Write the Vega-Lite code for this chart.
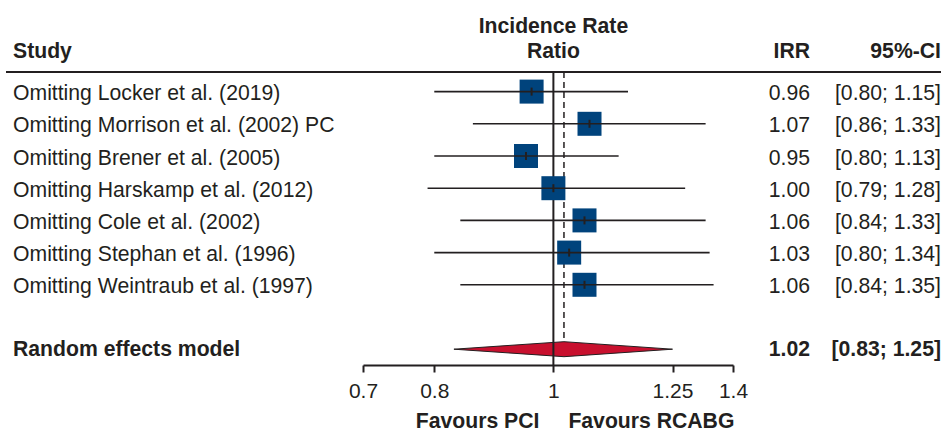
{
  "$schema": "https://vega.github.io/schema/vega-lite/v6.json",
  "padding": {"left": 5, "top": 0, "right": 0, "bottom": 0},
  "background": "white",
  "spacing": 0,
  "bounds": "flush",
  "config": {
    "view": {"stroke": null},
    "font": "Liberation Sans",
    "text": {"font": "Liberation Sans", "fontSize": 21.2, "color": "#231f20"}
  },
  "datasets": {
    "studies": [
      {"study": "Omitting Locker et al. (2019)", "row": 0, "irr": 0.96, "lower": 0.80, "upper": 1.15, "irrLabel": "0.96", "ciLabel": "[0.80; 1.15]"},
      {"study": "Omitting Morrison et al. (2002) PC", "row": 1, "irr": 1.07, "lower": 0.86, "upper": 1.33, "irrLabel": "1.07", "ciLabel": "[0.86; 1.33]"},
      {"study": "Omitting Brener et al. (2005)", "row": 2, "irr": 0.95, "lower": 0.80, "upper": 1.13, "irrLabel": "0.95", "ciLabel": "[0.80; 1.13]"},
      {"study": "Omitting Harskamp et al. (2012)", "row": 3, "irr": 1.00, "lower": 0.79, "upper": 1.28, "irrLabel": "1.00", "ciLabel": "[0.79; 1.28]"},
      {"study": "Omitting Cole et al. (2002)", "row": 4, "irr": 1.06, "lower": 0.84, "upper": 1.33, "irrLabel": "1.06", "ciLabel": "[0.84; 1.33]"},
      {"study": "Omitting Stephan et al. (1996)", "row": 5, "irr": 1.03, "lower": 0.80, "upper": 1.34, "irrLabel": "1.03", "ciLabel": "[0.80; 1.34]"},
      {"study": "Omitting Weintraub et al. (1997)", "row": 6, "irr": 1.06, "lower": 0.84, "upper": 1.35, "irrLabel": "1.06", "ciLabel": "[0.84; 1.35]"}
    ],
    "summary": [
      {"label": "Random effects model", "row": 8, "irr": 1.02, "lower": 0.83, "upper": 1.25, "irrLabel": "1.02", "ciLabel": "[0.83; 1.25]"}
    ],
    "diamond": [
      {"x": 0.83, "top": 8, "bottom": 8},
      {"x": 1.02, "top": 7.767, "bottom": 8.233},
      {"x": 1.25, "top": 8, "bottom": 8}
    ]
  },
  "hconcat": [
    {
      "width": 357,
      "height": 365,
      "layer": [
        {
          "data": {"values": [{}]},
          "mark": {"type": "rule", "color": "#231f20", "strokeWidth": 2},
          "encoding": {
            "y": {"datum": -0.609, "type": "quantitative", "scale": {"domain": [-2.845, 8.491], "reverse": true, "nice": false, "zero": false}, "axis": null}
          }
        },
        {
          "data": {"values": [{"label": "Study"}]},
          "mark": {"type": "text", "align": "left", "baseline": "middle", "fontWeight": "bold", "dx": 7},
          "encoding": {
            "x": {"datum": 0, "type": "quantitative", "scale": {"domain": [0, 1]}, "axis": null},
            "y": {"datum": -1.224, "type": "quantitative", "scale": {"domain": [-2.845, 8.491], "reverse": true, "nice": false, "zero": false}, "axis": null},
            "text": {"field": "label"}
          }
        },
        {
          "data": {"name": "studies"},
          "mark": {"type": "text", "align": "left", "baseline": "middle", "dx": 7, "dy": 2.5},
          "encoding": {
            "x": {"datum": 0, "type": "quantitative", "scale": {"domain": [0, 1]}, "axis": null},
            "y": {"field": "row", "type": "quantitative", "scale": {"domain": [-2.845, 8.491], "reverse": true, "nice": false, "zero": false}, "axis": null},
            "text": {"field": "study"}
          }
        },
        {
          "data": {"name": "summary"},
          "mark": {"type": "text", "align": "left", "baseline": "middle", "dx": 7, "dy": 0.5, "fontWeight": "bold"},
          "encoding": {
            "x": {"datum": 0, "type": "quantitative", "scale": {"domain": [0, 1]}, "axis": null},
            "y": {"field": "row", "type": "quantitative", "scale": {"domain": [-2.845, 8.491], "reverse": true, "nice": false, "zero": false}, "axis": null},
            "text": {"field": "label"}
          }
        }
      ]
    },
    {
      "width": 370,
      "height": 365,
      "layer": [
        {
          "data": {"values": [{}]},
          "mark": {"type": "rule", "color": "#231f20", "strokeWidth": 2},
          "encoding": {
            "y": {"datum": -0.609, "type": "quantitative", "scale": {"domain": [-2.845, 8.491], "reverse": true, "nice": false, "zero": false}, "axis": null}
          }
        },
        {
          "data": {"values": [{"label": "Incidence Rate"}]},
          "mark": {"type": "text", "align": "center", "baseline": "middle", "fontWeight": "bold"},
          "encoding": {
            "x": {"datum": 1, "type": "quantitative", "scale": {"type": "log", "domain": [0.7, 1.4], "nice": false}, "axis": {"values": [0.7, 0.8, 1, 1.25, 1.4], "format": "~g", "title": null, "grid": false, "domainColor": "#231f20", "domainWidth": 2, "tickColor": "#231f20", "tickWidth": 2, "tickSize": 7, "labelFont": "Liberation Sans", "labelFontSize": 21, "labelColor": "#231f20", "labelPadding": 8, "labelFlush": false, "labelOverlap": false}},
            "y": {"datum": -2.006, "type": "quantitative", "scale": {"domain": [-2.845, 8.491], "reverse": true, "nice": false, "zero": false}, "axis": null},
            "text": {"field": "label"}
          }
        },
        {
          "data": {"values": [{"label": "Ratio"}]},
          "mark": {"type": "text", "align": "center", "baseline": "middle", "fontWeight": "bold"},
          "encoding": {
            "x": {"datum": 1, "type": "quantitative", "scale": {"type": "log", "domain": [0.7, 1.4], "nice": false}, "axis": {"values": [0.7, 0.8, 1, 1.25, 1.4], "format": "~g", "title": null, "grid": false, "domainColor": "#231f20", "domainWidth": 2, "tickColor": "#231f20", "tickWidth": 2, "tickSize": 7, "labelFont": "Liberation Sans", "labelFontSize": 21, "labelColor": "#231f20", "labelPadding": 8, "labelFlush": false, "labelOverlap": false}},
            "y": {"datum": -1.224, "type": "quantitative", "scale": {"domain": [-2.845, 8.491], "reverse": true, "nice": false, "zero": false}, "axis": null},
            "text": {"field": "label"}
          }
        },
        {
          "data": {"name": "diamond"},
          "mark": {"type": "area", "color": "#c8102e", "stroke": "#231f20", "strokeWidth": 1, "opacity": 1, "line": false},
          "encoding": {
            "x": {"field": "x", "type": "quantitative", "scale": {"type": "log", "domain": [0.7, 1.4], "nice": false}, "axis": {"values": [0.7, 0.8, 1, 1.25, 1.4], "format": "~g", "title": null, "grid": false, "domainColor": "#231f20", "domainWidth": 2, "tickColor": "#231f20", "tickWidth": 2, "tickSize": 7, "labelFont": "Liberation Sans", "labelFontSize": 21, "labelColor": "#231f20", "labelPadding": 8, "labelFlush": false, "labelOverlap": false}},
            "y": {"field": "top", "type": "quantitative", "scale": {"domain": [-2.845, 8.491], "reverse": true, "nice": false, "zero": false}, "axis": null},
            "y2": {"field": "bottom"}
          }
        },
        {
          "data": {"values": [{}]},
          "mark": {"type": "rule", "color": "#231f20", "strokeWidth": 2},
          "encoding": {
            "x": {"datum": 1, "type": "quantitative", "scale": {"type": "log", "domain": [0.7, 1.4], "nice": false}, "axis": {"values": [0.7, 0.8, 1, 1.25, 1.4], "format": "~g", "title": null, "grid": false, "domainColor": "#231f20", "domainWidth": 2, "tickColor": "#231f20", "tickWidth": 2, "tickSize": 7, "labelFont": "Liberation Sans", "labelFontSize": 21, "labelColor": "#231f20", "labelPadding": 8, "labelFlush": false, "labelOverlap": false}},
            "y": {"datum": -0.609, "type": "quantitative", "scale": {"domain": [-2.845, 8.491], "reverse": true, "nice": false, "zero": false}, "axis": null},
            "y2": {"datum": 8.491}
          }
        },
        {
          "data": {"name": "summary"},
          "mark": {"type": "rule", "color": "#231f20", "strokeWidth": 1.5, "strokeDash": [6, 4]},
          "encoding": {
            "x": {"field": "irr", "type": "quantitative", "scale": {"type": "log", "domain": [0.7, 1.4], "nice": false}, "axis": {"values": [0.7, 0.8, 1, 1.25, 1.4], "format": "~g", "title": null, "grid": false, "domainColor": "#231f20", "domainWidth": 2, "tickColor": "#231f20", "tickWidth": 2, "tickSize": 7, "labelFont": "Liberation Sans", "labelFontSize": 21, "labelColor": "#231f20", "labelPadding": 8, "labelFlush": false, "labelOverlap": false}},
            "y": {"datum": -0.609, "type": "quantitative", "scale": {"domain": [-2.845, 8.491], "reverse": true, "nice": false, "zero": false}, "axis": null},
            "y2": {"datum": 7.77}
          }
        },
        {
          "data": {"name": "studies"},
          "mark": {"type": "square", "size": 576, "color": "#00437c", "opacity": 1, "filled": true},
          "encoding": {
            "x": {"field": "irr", "type": "quantitative", "scale": {"type": "log", "domain": [0.7, 1.4], "nice": false}, "axis": {"values": [0.7, 0.8, 1, 1.25, 1.4], "format": "~g", "title": null, "grid": false, "domainColor": "#231f20", "domainWidth": 2, "tickColor": "#231f20", "tickWidth": 2, "tickSize": 7, "labelFont": "Liberation Sans", "labelFontSize": 21, "labelColor": "#231f20", "labelPadding": 8, "labelFlush": false, "labelOverlap": false}},
            "y": {"field": "row", "type": "quantitative", "scale": {"domain": [-2.845, 8.491], "reverse": true, "nice": false, "zero": false}, "axis": null}
          }
        },
        {
          "data": {"name": "studies"},
          "mark": {"type": "rule", "color": "#231f20", "strokeWidth": 1.6},
          "encoding": {
            "x": {"field": "lower", "type": "quantitative", "scale": {"type": "log", "domain": [0.7, 1.4], "nice": false}, "axis": {"values": [0.7, 0.8, 1, 1.25, 1.4], "format": "~g", "title": null, "grid": false, "domainColor": "#231f20", "domainWidth": 2, "tickColor": "#231f20", "tickWidth": 2, "tickSize": 7, "labelFont": "Liberation Sans", "labelFontSize": 21, "labelColor": "#231f20", "labelPadding": 8, "labelFlush": false, "labelOverlap": false}},
            "x2": {"field": "upper"},
            "y": {"field": "row", "type": "quantitative", "scale": {"domain": [-2.845, 8.491], "reverse": true, "nice": false, "zero": false}, "axis": null}
          }
        },
        {
          "data": {"name": "studies"},
          "mark": {"type": "tick", "orient": "vertical", "size": 8, "thickness": 2, "color": "#231f20", "opacity": 1},
          "encoding": {
            "x": {"field": "irr", "type": "quantitative", "scale": {"type": "log", "domain": [0.7, 1.4], "nice": false}, "axis": {"values": [0.7, 0.8, 1, 1.25, 1.4], "format": "~g", "title": null, "grid": false, "domainColor": "#231f20", "domainWidth": 2, "tickColor": "#231f20", "tickWidth": 2, "tickSize": 7, "labelFont": "Liberation Sans", "labelFontSize": 21, "labelColor": "#231f20", "labelPadding": 8, "labelFlush": false, "labelOverlap": false}},
            "y": {"field": "row", "type": "quantitative", "scale": {"domain": [-2.845, 8.491], "reverse": true, "nice": false, "zero": false}, "axis": null}
          }
        },
        {
          "data": {"values": [{"label": "Favours PCI"}]},
          "mark": {"type": "text", "align": "right", "baseline": "middle", "fontWeight": "bold", "dx": -14},
          "encoding": {
            "x": {"datum": 1, "type": "quantitative", "scale": {"type": "log", "domain": [0.7, 1.4], "nice": false}, "axis": {"values": [0.7, 0.8, 1, 1.25, 1.4], "format": "~g", "title": null, "grid": false, "domainColor": "#231f20", "domainWidth": 2, "tickColor": "#231f20", "tickWidth": 2, "tickSize": 7, "labelFont": "Liberation Sans", "labelFontSize": 21, "labelColor": "#231f20", "labelPadding": 8, "labelFlush": false, "labelOverlap": false}},
            "y": {"datum": 10.25, "type": "quantitative", "scale": {"domain": [-2.845, 8.491], "reverse": true, "nice": false, "zero": false}, "axis": null},
            "text": {"field": "label"}
          }
        },
        {
          "data": {"values": [{"label": "Favours RCABG"}]},
          "mark": {"type": "text", "align": "left", "baseline": "middle", "fontWeight": "bold", "dx": 15},
          "encoding": {
            "x": {"datum": 1, "type": "quantitative", "scale": {"type": "log", "domain": [0.7, 1.4], "nice": false}, "axis": {"values": [0.7, 0.8, 1, 1.25, 1.4], "format": "~g", "title": null, "grid": false, "domainColor": "#231f20", "domainWidth": 2, "tickColor": "#231f20", "tickWidth": 2, "tickSize": 7, "labelFont": "Liberation Sans", "labelFontSize": 21, "labelColor": "#231f20", "labelPadding": 8, "labelFlush": false, "labelOverlap": false}},
            "y": {"datum": 10.25, "type": "quantitative", "scale": {"domain": [-2.845, 8.491], "reverse": true, "nice": false, "zero": false}, "axis": null},
            "text": {"field": "label"}
          }
        }
      ]
    },
    {
      "width": 209,
      "height": 365,
      "layer": [
        {
          "data": {"values": [{}]},
          "mark": {"type": "rule", "color": "#231f20", "strokeWidth": 2},
          "encoding": {
            "y": {"datum": -0.609, "type": "quantitative", "scale": {"domain": [-2.845, 8.491], "reverse": true, "nice": false, "zero": false}, "axis": null}
          }
        },
        {
          "data": {"values": [{"label": "IRR"}]},
          "mark": {"type": "text", "align": "right", "baseline": "middle", "fontWeight": "bold"},
          "encoding": {
            "x": {"datum": 0.3684, "type": "quantitative", "scale": {"domain": [0, 1]}, "axis": null},
            "y": {"datum": -1.224, "type": "quantitative", "scale": {"domain": [-2.845, 8.491], "reverse": true, "nice": false, "zero": false}, "axis": null},
            "text": {"field": "label"}
          }
        },
        {
          "data": {"values": [{"label": "95%-CI"}]},
          "mark": {"type": "text", "align": "right", "baseline": "middle", "fontWeight": "bold"},
          "encoding": {
            "x": {"datum": 0.9952, "type": "quantitative", "scale": {"domain": [0, 1]}, "axis": null},
            "y": {"datum": -1.224, "type": "quantitative", "scale": {"domain": [-2.845, 8.491], "reverse": true, "nice": false, "zero": false}, "axis": null},
            "text": {"field": "label"}
          }
        },
        {
          "data": {"name": "studies"},
          "mark": {"type": "text", "align": "right", "baseline": "middle", "dy": 2.5},
          "encoding": {
            "x": {"datum": 0.3684, "type": "quantitative", "scale": {"domain": [0, 1]}, "axis": null},
            "y": {"field": "row", "type": "quantitative", "scale": {"domain": [-2.845, 8.491], "reverse": true, "nice": false, "zero": false}, "axis": null},
            "text": {"field": "irrLabel"}
          }
        },
        {
          "data": {"name": "studies"},
          "mark": {"type": "text", "align": "right", "baseline": "middle", "dy": 2.5},
          "encoding": {
            "x": {"datum": 0.9952, "type": "quantitative", "scale": {"domain": [0, 1]}, "axis": null},
            "y": {"field": "row", "type": "quantitative", "scale": {"domain": [-2.845, 8.491], "reverse": true, "nice": false, "zero": false}, "axis": null},
            "text": {"field": "ciLabel"}
          }
        },
        {
          "data": {"name": "summary"},
          "mark": {"type": "text", "align": "right", "baseline": "middle", "dy": 0.5, "fontWeight": "bold"},
          "encoding": {
            "x": {"datum": 0.3684, "type": "quantitative", "scale": {"domain": [0, 1]}, "axis": null},
            "y": {"field": "row", "type": "quantitative", "scale": {"domain": [-2.845, 8.491], "reverse": true, "nice": false, "zero": false}, "axis": null},
            "text": {"field": "irrLabel"}
          }
        },
        {
          "data": {"name": "summary"},
          "mark": {"type": "text", "align": "right", "baseline": "middle", "dy": 0.5, "fontWeight": "bold"},
          "encoding": {
            "x": {"datum": 0.9952, "type": "quantitative", "scale": {"domain": [0, 1]}, "axis": null},
            "y": {"field": "row", "type": "quantitative", "scale": {"domain": [-2.845, 8.491], "reverse": true, "nice": false, "zero": false}, "axis": null},
            "text": {"field": "ciLabel"}
          }
        }
      ]
    }
  ]
}
